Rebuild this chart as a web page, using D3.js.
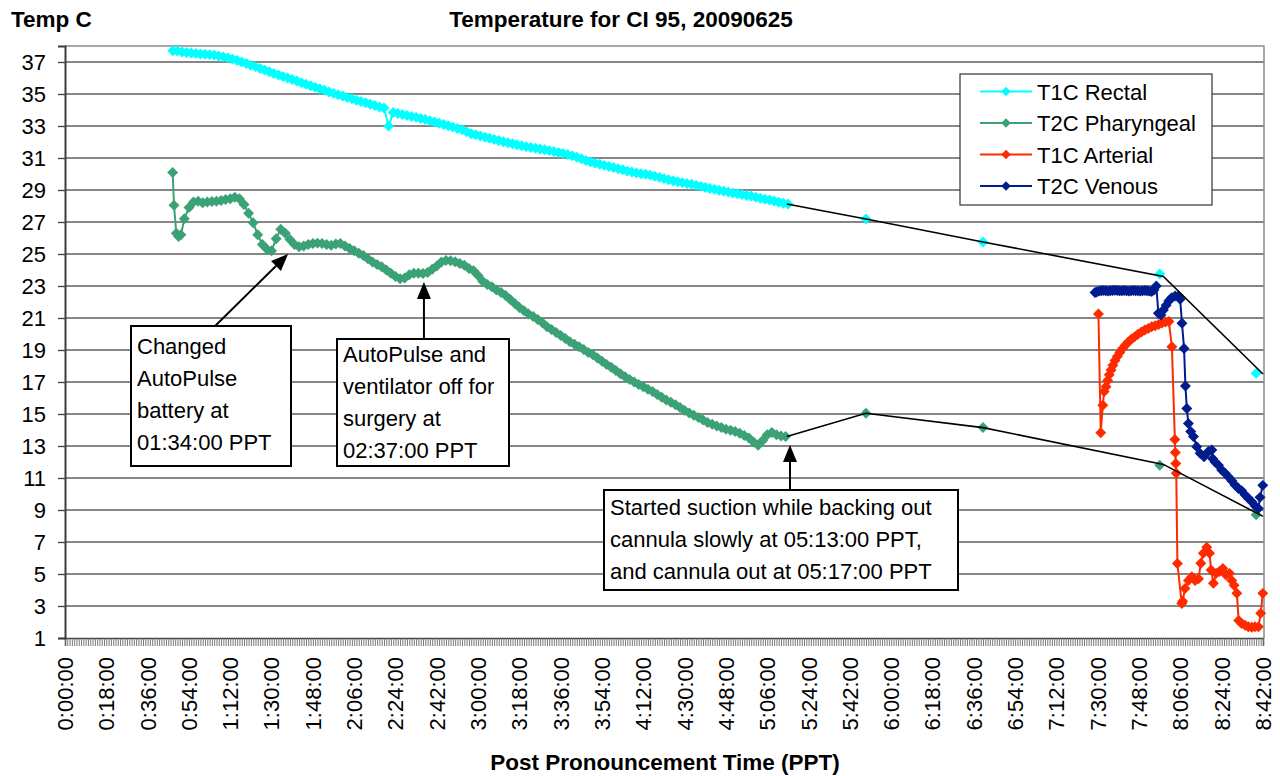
<!DOCTYPE html>
<html>
<head>
<meta charset="utf-8">
<script src="https://cdn.jsdelivr.net/npm/d3@7"></script>
<style>
  body { margin: 0; background: #fff; }
  svg text { font-family: "Liberation Sans", Arial, sans-serif; fill: #000; }
</style>
</head>
<body>
<div id="chart"></div>
<script>
// y axis ticks (deg C) and x axis tick labels (PPT)
var yTicks = [1, 3, 5, 7, 9, 11, 13, 15, 17, 19, 21, 23, 25, 27, 29, 31, 33, 35, 37];
var xTickLabels = ["0:00:00", "0:18:00", "0:36:00", "0:54:00", "1:12:00", "1:30:00", "1:48:00", "2:06:00",
  "2:24:00", "2:42:00", "3:00:00", "3:18:00", "3:36:00", "3:54:00", "4:12:00", "4:30:00", "4:48:00",
  "5:06:00", "5:24:00", "5:42:00", "6:00:00", "6:18:00", "6:36:00", "6:54:00", "7:12:00", "7:30:00",
  "7:48:00", "8:06:00", "8:24:00", "8:42:00"];
var lastMinute = 522;

var seriesNames = ["T1C Rectal", "T2C Pharyngeal", "T1C Arterial", "T2C Venous"];
var seriesColors = ["#00ffff", "#3ba276", "#ff2a00", "#001c8e"];

// T1C Rectal: one reading every 2 min from minute 47, then a few late readings
var rectalStart = 47, rectalStep = 2;
var rectalDense = [
  37.70, 37.68, 37.62, 37.60, 37.56, 37.53, 37.50, 37.49, 37.46, 37.43,
  37.38, 37.32, 37.25, 37.18, 37.09, 37.00, 36.90, 36.80, 36.71, 36.60,
  36.50, 36.39, 36.28, 36.19, 36.09, 36.00, 35.90, 35.81, 35.71, 35.61,
  35.52, 35.42, 35.33, 35.23, 35.13, 35.04, 34.95, 34.87, 34.78, 34.70,
  34.61, 34.53, 34.45, 34.36, 34.28, 34.19, 34.12, 33.00, 33.84, 33.78,
  33.72, 33.66, 33.60, 33.54, 33.47, 33.40, 33.33, 33.25, 33.17, 33.10,
  33.02, 32.93, 32.85, 32.76, 32.64, 32.52, 32.45, 32.38, 32.30, 32.23,
  32.16, 32.09, 32.02, 31.95, 31.89, 31.83, 31.77, 31.71, 31.66, 31.61,
  31.56, 31.51, 31.46, 31.40, 31.34, 31.28, 31.22, 31.14, 31.05, 30.95,
  30.85, 30.76, 30.68, 30.61, 30.54, 30.47, 30.40, 30.33, 30.26, 30.18,
  30.12, 30.07, 30.02, 29.98, 29.93, 29.86, 29.79, 29.71, 29.64, 29.58,
  29.52, 29.46, 29.40, 29.36, 29.29, 29.23, 29.16, 29.10, 29.04, 28.98,
  28.92, 28.87, 28.81, 28.76, 28.71, 28.66, 28.62, 28.55, 28.48, 28.42,
  28.38, 28.31, 28.24, 28.17, 28.12];
var rectalLateTime = [349, 400, 477, 519];
var rectalLateTemp = [27.19, 25.75, 23.75, 17.54];

// T2C Pharyngeal: first readings, then every 2 min from minute 52, then late readings
var pharyngealHeadTime = [46.9, 47.5, 48.5, 49.5, 50.5];
var pharyngealHeadTemp = [30.10, 28.05, 26.30, 26.10, 26.20];
var pharyngealStart = 52, pharyngealStep = 2;
var pharyngealDense = [
  27.20, 27.90, 28.25, 28.30, 28.20, 28.25, 28.28, 28.30, 28.35, 28.40,
  28.45, 28.55, 28.45, 28.10, 27.55, 26.95, 26.20, 25.60, 25.30, 25.20,
  25.95, 26.55, 26.30, 25.90, 25.60, 25.45, 25.50, 25.60, 25.65, 25.68,
  25.65, 25.60, 25.55, 25.62, 25.65, 25.50, 25.35, 25.20, 25.05, 24.90,
  24.70, 24.50, 24.35, 24.20, 24.00, 23.80, 23.60, 23.45, 23.50, 23.70,
  23.80, 23.80, 23.78, 23.85, 24.05, 24.25, 24.50, 24.60, 24.58, 24.52,
  24.40, 24.30, 24.10, 23.95, 23.65, 23.30, 23.10, 22.95, 22.75, 22.60,
  22.40, 22.15, 21.90, 21.65, 21.45, 21.25, 21.10, 20.90, 20.70, 20.45,
  20.28, 20.10, 19.90, 19.72, 19.52, 19.36, 19.20, 19.03, 18.85, 18.70,
  18.50, 18.30, 18.10, 17.92, 17.72, 17.52, 17.33, 17.15, 17.00, 16.85,
  16.70, 16.55, 16.40, 16.22, 16.05, 15.88, 15.73, 15.58, 15.40, 15.22,
  15.06, 14.92, 14.78, 14.62, 14.47, 14.36, 14.25, 14.15, 14.05, 13.98,
  13.90, 13.80, 13.65, 13.50, 13.25, 13.05, 13.35, 13.70, 13.85, 13.70,
  13.62, 13.60];
var pharyngealLateTime = [349, 400, 477, 519];
var pharyngealLateTemp = [15.05, 14.15, 11.80, 8.70];

// T1C Arterial
var arterialTime = [450.3, 451.3, 452.2, 452.8, 453.6, 454.3, 455.0, 455.8, 456.6, 457.5,
  458.5, 459.6, 460.8, 462.0, 463.3, 464.6, 466.0, 467.5, 469.0, 470.5,
  472.0, 473.5, 475.0, 476.5, 478.0, 479.5, 481.0, 482.3, 483.6, 483.8,
  484.0, 484.2, 484.7, 486.6, 487.0, 488.0, 489.5, 491.0, 492.4, 493.9,
  494.9, 496.0, 497.5, 498.7, 499.4, 500.4, 501.6, 503.0, 504.5, 505.9,
  507.4, 508.4, 509.4, 510.6, 511.4, 512.7, 514.2, 515.6, 517.1, 518.5,
  520.0, 521.0, 521.9];
var arterialTemp = [21.25, 13.83, 15.55, 16.40, 16.70, 17.10, 17.45, 17.75, 18.05, 18.35,
  18.60, 18.85, 19.10, 19.30, 19.50, 19.67, 19.82, 19.98, 20.12, 20.25,
  20.35, 20.45, 20.52, 20.60, 20.68, 20.75, 20.78, 19.20, 13.40, 12.60,
  11.90, 11.30, 5.65, 3.15, 3.30, 4.10, 4.60, 4.83, 4.60, 4.70,
  5.67, 6.30, 6.67, 6.30, 5.25, 4.42, 5.04, 5.15, 5.35, 4.94,
  5.04, 4.60, 4.30, 3.80, 2.10, 1.90, 1.80, 1.70, 1.67, 1.70,
  1.70, 2.54, 3.79];

// T2C Venous
var venousTime = [448.8, 449.5, 450.5, 451.5, 452.5, 453.5, 454.5, 455.5, 456.5, 457.5,
  458.5, 459.5, 460.5, 461.5, 462.5, 463.5, 464.5, 465.5, 466.5, 467.5,
  468.5, 469.5, 470.5, 471.5, 472.5, 473.5, 474.5, 475.5, 476.4, 477.5,
  478.6, 479.8, 481.0, 482.2, 483.7, 485.1, 485.9, 486.7, 487.6, 488.2,
  488.8, 489.5, 490.5, 491.7, 493.1, 494.6, 496.3, 498.2, 499.7, 500.1,
  501.1, 502.6, 504.0, 505.5, 506.9, 508.4, 509.8, 511.3, 512.7, 514.2,
  515.6, 517.1, 518.6, 520.0, 520.7, 521.9];
var venousTemp = [22.60, 22.62, 22.68, 22.70, 22.72, 22.70, 22.68, 22.70, 22.72, 22.74,
  22.72, 22.70, 22.70, 22.72, 22.70, 22.68, 22.70, 22.72, 22.70, 22.70,
  22.68, 22.70, 22.72, 22.70, 22.68, 22.66, 22.75, 23.00, 21.30, 21.19,
  21.50, 21.80, 22.08, 22.27, 22.38, 22.38, 22.17, 20.67, 19.10, 16.75,
  15.35, 14.40, 13.90, 13.60, 12.96, 12.54, 12.33, 12.65, 12.75, 12.20,
  12.00, 11.80, 11.50, 11.30, 11.08, 10.83, 10.56, 10.35, 10.21, 9.94,
  9.73, 9.52, 9.25, 9.10, 9.79, 10.54];

// black lines drawn over the sparse late readings
var bridgeTime = [314.5, 349, 400, 478.6, 522];
var rectalBridge = [28.13, 27.19, 25.75, 23.60, 17.50];
var pharyngealBridge = [13.60, 15.05, 14.15, 11.85, 8.60];

// annotations: text lines, arrow tail / tip in data units
var notes = [
  {lines: ["Changed", "AutoPulse", "battery at", "01:34:00 PPT"],
   tail: [65.4, 20.5], tip: [97.2, 25.0]},
  {lines: ["AutoPulse and", "ventilator off for", "surgery at", "02:37:00 PPT"],
   tail: [156.4, 19.7], tip: [156.4, 23.25]},
  {lines: ["Started suction while backing out", "cannula slowly at 05:13:00 PPT,", "and cannula out at 05:17:00 PPT"],
   tail: [315.9, 10.25], tip: [315.9, 13.06]}
];
// box layout (px)
var noteBoxes = [
  {x: 131, y: 326, w: 160, h: 140, first: 354},
  {x: 337, y: 339, w: 172, h: 127, first: 362},
  {x: 604, y: 490, w: 354, h: 100, first: 515}
];

// 画布大小
var width = 1280;
var height = 776;
var plotLeft = 65, plotRight = 1264, plotTop = 46, plotBottom = 638;
var fontSize = "22px";

var xScale = d3.scaleLinear().domain([0, lastMinute]).range([plotLeft, 1263]);
var yScale = d3.scaleLinear().domain([1, 38]).range([plotBottom, plotTop]);

var svg = d3.select("#chart")
  .append("svg")
  .attr("width", width)
  .attr("height", height)
  .style("display", "block");

// 网格线
svg.selectAll(".grid")
  .data(yTicks.filter(function(d){ return d > 1; }))
  .enter()
  .append("line")
  .attr("class", "grid")
  .attr("x1", plotLeft).attr("x2", plotRight)
  .attr("y1", function(d){ return yScale(d); })
  .attr("y2", function(d){ return yScale(d); })
  .attr("stroke", "#5e5e5e")
  .attr("stroke-width", 1.3);

// plot frame top/right
svg.append("path")
  .attr("d", "M" + plotLeft + "," + plotTop + "H" + plotRight + "V" + plotBottom)
  .attr("fill", "none")
  .attr("stroke", "#8a8a8a")
  .attr("stroke-width", 1.5);

// x axis: one small tick per minute
var minutes = d3.range(0, lastMinute + 1);
var xAxis = d3.axisBottom(xScale)
  .tickValues(minutes)
  .tickSize(8)
  .tickFormat("");
var gx = svg.append("g")
  .attr("transform", "translate(0," + plotBottom + ")")
  .call(xAxis);
gx.select(".domain").attr("stroke", "#3c3c3c").attr("stroke-width", 1.5);
gx.selectAll(".tick line").attr("stroke", "#6a6a6a").attr("stroke-width", 0.9);

// x tick labels (rotated)
svg.selectAll(".xlab")
  .data(xTickLabels)
  .enter()
  .append("text")
  .attr("class", "xlab")
  .attr("transform", function(d){
    var p = d.split(":");
    var m = (+p[0]) * 60 + (+p[1]);
    return "translate(" + xScale(m) + ",657) rotate(-90)";
  })
  .attr("text-anchor", "end")
  .attr("dy", "0.36em")
  .style("font-size", fontSize)
  .text(function(d){ return d; });

// y axis
var yAxis = d3.axisLeft(yScale)
  .tickValues(yTicks)
  .tickSize(7)
  .tickPadding(12);
var gy = svg.append("g")
  .attr("transform", "translate(" + plotLeft + ",0)")
  .call(yAxis);
gy.select(".domain").attr("stroke", "#3c3c3c").attr("stroke-width", 2);
gy.selectAll(".tick line").attr("stroke", "#3c3c3c").attr("stroke-width", 1.3);
gy.selectAll(".tick text")
  .style("font-size", fontSize)
  .style("font-family", "'Liberation Sans', Arial, sans-serif")
  .attr("fill", "#000");

// build point lists
function zip(times, temps) {
  return times.map(function(t, i){ return {t: t, v: temps[i]}; });
}
var rectal = rectalDense.map(function(v, i){ return {t: rectalStart + i * rectalStep, v: v}; })
  .concat(zip(rectalLateTime, rectalLateTemp));
var pharyngeal = zip(pharyngealHeadTime, pharyngealHeadTemp)
  .concat(pharyngealDense.map(function(v, i){ return {t: pharyngealStart + i * pharyngealStep, v: v}; }))
  .concat(zip(pharyngealLateTime, pharyngealLateTemp));
var arterial = zip(arterialTime, arterialTemp);
var venous = zip(venousTime, venousTemp);
var allSeries = [rectal, pharyngeal, arterial, venous];

// split where readings are far apart (those gaps are bridged by black lines)
function segments(pts) {
  var segs = [[pts[0]]];
  for (var i = 1; i < pts.length; i++) {
    if (pts[i].t - pts[i - 1].t > 10) segs.push([]);
    segs[segs.length - 1].push(pts[i]);
  }
  return segs.filter(function(s){ return s.length > 1; });
}

var line = d3.line()
  .x(function(d){ return xScale(d.t); })
  .y(function(d){ return yScale(d.v); });

var diamond = d3.symbol().type(d3.symbolSquare).size(60);

allSeries.forEach(function(pts, k){
  var g = svg.append("g").attr("class", "series");
  g.selectAll("path.ln")
    .data(segments(pts))
    .enter()
    .append("path")
    .attr("class", "ln")
    .attr("d", line)
    .attr("fill", "none")
    .attr("stroke", seriesColors[k])
    .attr("stroke-width", 2);
  g.selectAll("path.mk")
    .data(pts)
    .enter()
    .append("path")
    .attr("class", "mk")
    .attr("d", diamond)
    .attr("transform", function(d){
      return "translate(" + xScale(d.t) + "," + yScale(d.v) + ") rotate(45)";
    })
    .attr("fill", seriesColors[k]);
});

// black bridge lines
[rectalBridge, pharyngealBridge].forEach(function(vals){
  svg.append("path")
    .datum(zip(bridgeTime, vals))
    .attr("d", line)
    .attr("fill", "none")
    .attr("stroke", "#000")
    .attr("stroke-width", 1.6);
});

// 标注框和箭头
notes.forEach(function(n, i){
  var b = noteBoxes[i];
  var x1 = xScale(n.tail[0]), y1 = yScale(n.tail[1]);
  var x2 = xScale(n.tip[0]), y2 = yScale(n.tip[1]);
  var ang = Math.atan2(y2 - y1, x2 - x1);
  var len = 17, half = 7;
  var bx = x2 - len * Math.cos(ang), by = y2 - len * Math.sin(ang);
  svg.append("line")
    .attr("x1", x1).attr("y1", y1)
    .attr("x2", bx).attr("y2", by)
    .attr("stroke", "#000")
    .attr("stroke-width", 2);
  svg.append("path")
    .attr("d", "M" + x2 + "," + y2 +
      "L" + (bx + half * Math.sin(ang)) + "," + (by - half * Math.cos(ang)) +
      "L" + (bx - half * Math.sin(ang)) + "," + (by + half * Math.cos(ang)) + "Z")
    .attr("fill", "#000");

  svg.append("rect")
    .attr("x", b.x).attr("y", b.y)
    .attr("width", b.w).attr("height", b.h)
    .attr("fill", "#fff")
    .attr("stroke", "#000")
    .attr("stroke-width", 2);
  svg.selectAll(".note" + i)
    .data(n.lines)
    .enter()
    .append("text")
    .attr("class", "note" + i)
    .attr("x", b.x + 6)
    .attr("y", function(d, j){ return b.first + j * 32; })
    .style("font-size", fontSize)
    .text(function(d){ return d; });
});

// 图例
var legend = svg.append("g").attr("transform", "translate(960,74)");
legend.append("rect")
  .attr("width", 252).attr("height", 131)
  .attr("fill", "#fff")
  .attr("stroke", "#333")
  .attr("stroke-width", 1.2);
var items = legend.selectAll(".item")
  .data(seriesNames)
  .enter()
  .append("g")
  .attr("class", "item")
  .attr("transform", function(d, i){ return "translate(0," + (17.5 + i * 31.5) + ")"; });
items.append("line")
  .attr("x1", 20).attr("x2", 72)
  .attr("stroke", function(d, i){ return seriesColors[i]; })
  .attr("stroke-width", 2);
items.append("path")
  .attr("d", d3.symbol().type(d3.symbolSquare).size(46))
  .attr("transform", "translate(46,0) rotate(45)")
  .attr("fill", function(d, i){ return seriesColors[i]; });
items.append("text")
  .attr("x", 77)
  .attr("y", 8)
  .style("font-size", fontSize)
  .text(function(d){ return d; });

// titles
svg.append("text")
  .attr("x", 11).attr("y", 27)
  .style("font-size", "22.5px").style("font-weight", "bold")
  .text("Temp C");
svg.append("text")
  .attr("x", 621).attr("y", 27)
  .attr("text-anchor", "middle")
  .style("font-size", "22.5px").style("font-weight", "bold")
  .text("Temperature for CI 95, 20090625");
svg.append("text")
  .attr("x", 665).attr("y", 770)
  .attr("text-anchor", "middle")
  .style("font-size", "22.5px").style("font-weight", "bold")
  .text("Post Pronouncement Time (PPT)");
</script>
</body>
</html>
